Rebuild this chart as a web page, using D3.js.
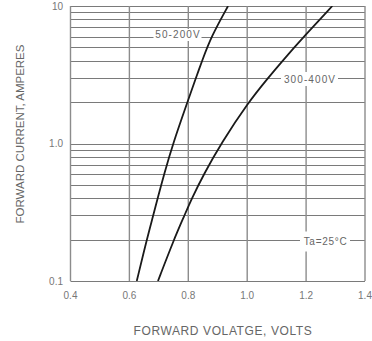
<!DOCTYPE html>
<html>
<head>
<meta charset="utf-8">
<script src="https://cdn.jsdelivr.net/npm/d3@7"></script>
<style>
  html, body { margin: 0; padding: 0; background: #fff; }
  svg { display: block; font-family: "Liberation Sans", Arial, Helvetica, sans-serif; }
</style>
</head>
<body>
<svg id="chart" width="372" height="341"></svg>
<script>
// ---- data ----
const xTicks = [0.4, 0.6, 0.8, 1.0, 1.2, 1.4];
const xTickLabels = ["0.4", "0.6", "0.8", "1.0", "1.2", "1.4"];
const yTicks = [0.1, 1, 10];
const yTickLabels = ["0.1", "1.0", "10"];
const yGrid = [0.1, 0.2, 0.3, 0.4, 0.5, 0.6, 0.7, 0.8, 0.9, 1, 2, 3, 4, 5, 6, 7, 8, 9, 10];

const currents = [0.1, 0.2, 0.3, 0.4, 0.6, 1, 2, 3, 4, 6, 10];
const volts50_200 = [0.625, 0.659, 0.681, 0.696, 0.718, 0.748, 0.797, 0.826, 0.847, 0.878, 0.935];
const volts300_400 = [0.697, 0.751, 0.787, 0.812, 0.853, 0.911, 1.004, 1.071, 1.120, 1.193, 1.289];

const seriesNames = ["50-200V", "300-400V"];
const xTitle = "FORWARD VOLATGE, VOLTS";
const yTitle = "FORWARD CURRENT, AMPERES";
const noteText = "Ta=25\u00B0C";

// ---- chart ----
const svg = d3.select("#chart");
const L = 70.5, R = 365, T = 6, B = 281;
const x = d3.scaleLinear().domain([0.4, 1.4]).range([L, R]);
const y = d3.scaleLog().domain([0.1, 10]).range([B, T]);

// horizontal grid
svg.append("g").selectAll("line").data(yGrid).join("line")
  .attr("x1", L).attr("x2", R)
  .attr("y1", d => Math.round(y(d)) + 0.5).attr("y2", d => Math.round(y(d)) + 0.5)
  .attr("stroke", "#7a7a7a").attr("stroke-width", 1);

// vertical grid
svg.append("g").selectAll("line").data(xTicks).join("line")
  .attr("x1", d => x(d)).attr("x2", d => x(d))
  .attr("y1", T).attr("y2", B)
  .attr("stroke", "#8c8c8c").attr("stroke-width", 1.4);

// label boxes (white background covering grid)
function labelBox(cx, cy, w, h) {
  svg.append("rect").attr("x", cx - w / 2).attr("y", cy - h / 2)
    .attr("width", w).attr("height", h).attr("fill", "#fff");
}

// curves
svg.append("clipPath").attr("id", "plotclip").append("rect")
  .attr("x", L).attr("y", T).attr("width", R - L).attr("height", B - T);

const line = d3.line()
  .x(d => x(d[0])).y(d => y(d[1]))
  .curve(d3.curveBasis);

const s1 = volts50_200.map((v, i) => [v, currents[i]]);
const s2 = volts300_400.map((v, i) => [v, currents[i]]);

labelBox(177.5, 35, 48, 12);
labelBox(309.5, 79, 57, 14);
labelBox(325, 241.5, 50, 20);

[s1, s2].forEach(s => {
  svg.append("path").datum(s)
    .attr("d", line)
    .attr("fill", "none")
    .attr("stroke", "#1a1a1a")
    .attr("stroke-width", 1.8)
    .attr("clip-path", "url(#plotclip)");
});

// series labels
const lblStyle = sel => sel.attr("font-size", 10).attr("fill", "#666")
  .attr("letter-spacing", 1.1).attr("text-anchor", "middle").attr("dominant-baseline", "central");
svg.append("text").attr("x", 178).attr("y", 34).text(seriesNames[0]).call(lblStyle);
svg.append("text").attr("x", 310).attr("y", 79).text(seriesNames[1]).call(lblStyle);
svg.append("text").attr("x", 325.5).attr("y", 241.5).text(noteText).call(lblStyle).attr("letter-spacing", 0.7);

// x tick labels
svg.append("g").selectAll("text").data(xTicks).join("text")
  .attr("x", d => x(d)).attr("y", 299)
  .attr("text-anchor", "middle").attr("font-size", 10).attr("fill", "#777")
  .text((d, i) => xTickLabels[i]);

// y tick labels
svg.append("g").selectAll("text").data(yTicks).join("text")
  .attr("x", 63).attr("y", d => y(d) + 3.5)
  .attr("text-anchor", "end").attr("font-size", 10).attr("fill", "#777")
  .text((d, i) => yTickLabels[i]);

// axis titles
svg.append("text").attr("x", 223).attr("y", 335)
  .attr("text-anchor", "middle").attr("font-size", 12).attr("fill", "#666")
  .attr("letter-spacing", 0.6).text(xTitle);
svg.append("text")
  .attr("transform", "translate(24,134) rotate(-90)")
  .attr("text-anchor", "middle").attr("font-size", 11.5).attr("fill", "#666")
  .text(yTitle);
</script>
</body>
</html>
